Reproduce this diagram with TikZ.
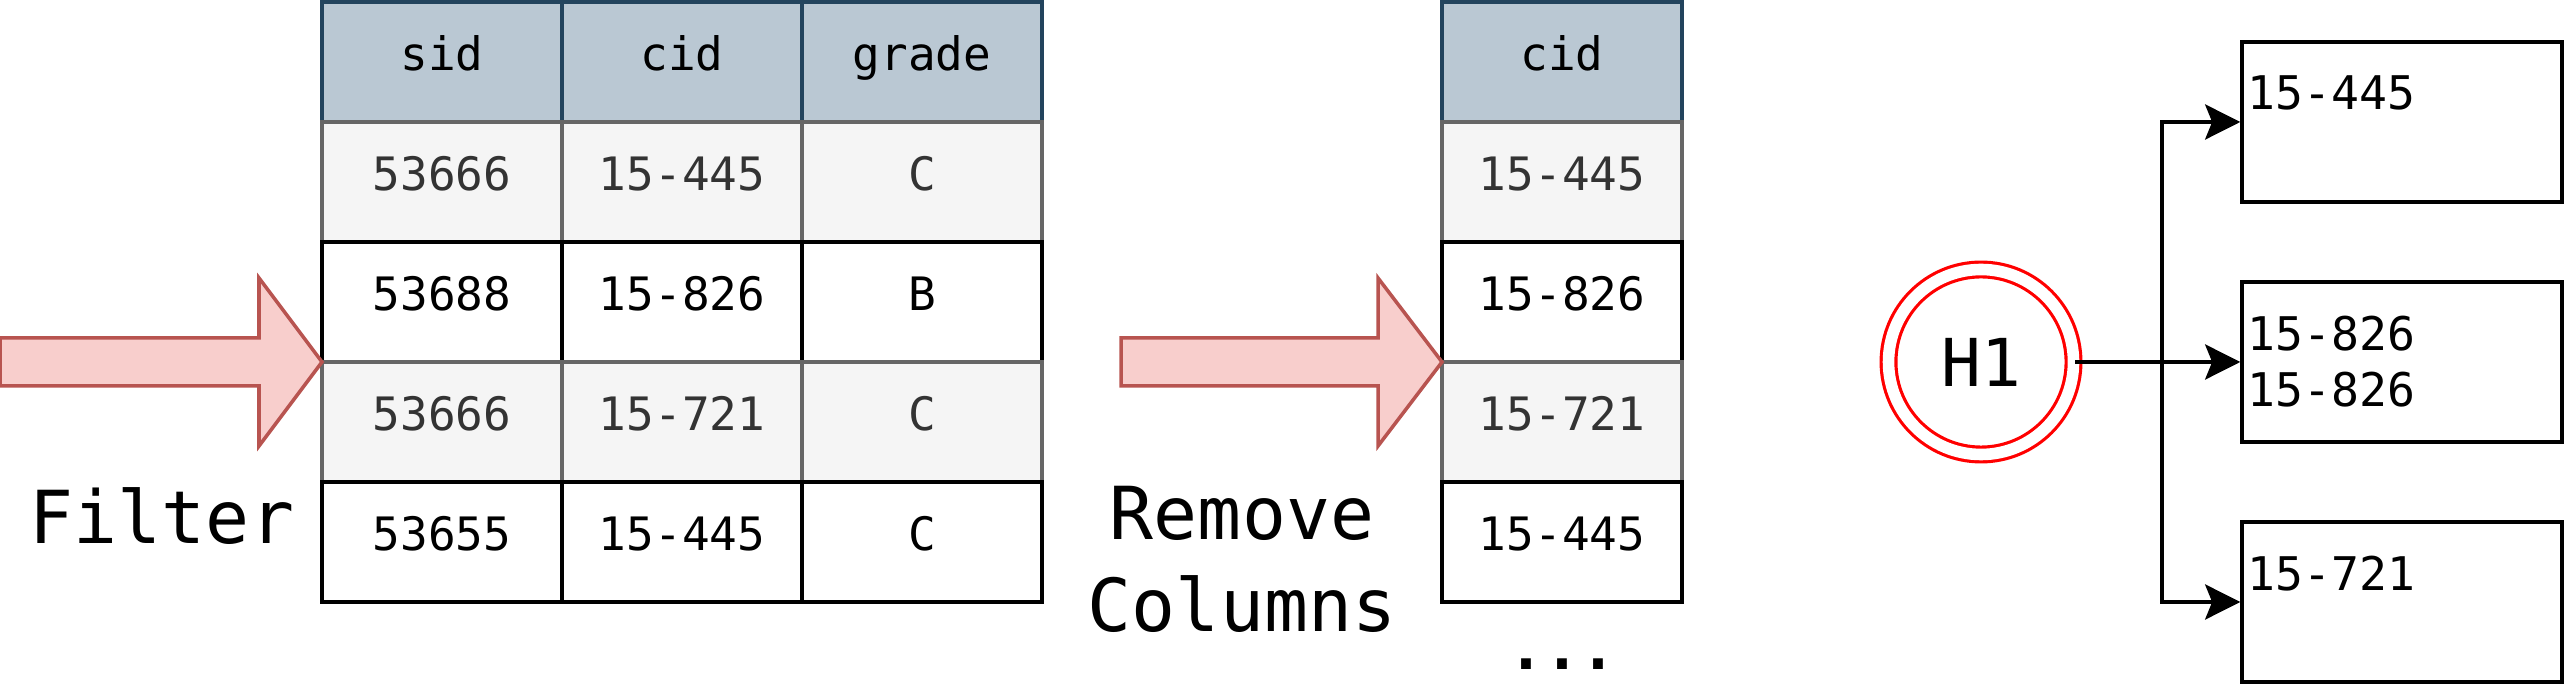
\documentclass[tikz,border=0pt]{standalone}
\usepackage{fontspec}
\setmainfont{DejaVu Sans Mono}
\usetikzlibrary{arrows.meta,positioning}

\definecolor{kopf}{HTML}{BAC8D3}
\definecolor{kopfrand}{HTML}{23445D}
\definecolor{grau}{HTML}{F5F5F5}
\definecolor{graurand}{HTML}{666666}
\definecolor{grautext}{HTML}{333333}
\definecolor{pfeil}{HTML}{F8CECC}
\definecolor{pfeilrand}{HTML}{B85450}

\tikzset{
  zelle/.style={draw, line width=1pt, minimum width=2.4cm, minimum height=1.2cm, inner sep=0pt,
    font=\fontsize{13.1}{16}\selectfont, text height=0.8em, text depth=0.3em},
  kopfzelle/.style={zelle, fill=kopf, draw=kopfrand},
  grauzelle/.style={zelle, fill=grau, draw=graurand, text=grautext},
  weisszelle/.style={zelle, fill=white, draw=black},
  gross/.style={font=\fontsize{20.8}{26}\selectfont, inner sep=0pt},
  bigpfeil/.style={draw=pfeilrand, fill=pfeil, line width=1pt},
  fach/.style={draw, line width=1pt, minimum width=3.2cm, minimum height=1.6cm, inner sep=0pt},
  fachtext/.style={anchor=north west, inner sep=0pt, align=left, font=\fontsize{13.2}{16}\selectfont},
  verbinder/.style={line width=1pt, -{Stealth[length=10pt,width=10pt,inset=2pt]}}
}

\begin{document}
\begin{tikzpicture}
  \useasboundingbox (0,0) rectangle (25.64,-6.88);

  % Tabelle
  \node[kopfzelle] (t11) at (4.42,-0.62) {sid};
  \node[kopfzelle] (t12) at (6.82,-0.62) {cid};
  \node[kopfzelle] (t13) at (9.22,-0.62) {grade};
  \foreach \z/\stil/\a/\b/\c in {2/grauzelle/53666/15-445/C, 3/weisszelle/53688/15-826/B,
                                 4/grauzelle/53666/15-721/C, 5/weisszelle/53655/15-445/C} {
    \node[\stil] (t\z1) at (4.42,{-0.62-1.2*(\z-1)}) {\a};
    \node[\stil] (t\z2) at (6.82,{-0.62-1.2*(\z-1)}) {\b};
    \node[\stil] (t\z3) at (9.22,{-0.62-1.2*(\z-1)}) {\c};
  }

  % Spalte cid
  \node[kopfzelle] (s1) at (15.62,-0.62) {cid};
  \foreach \z/\stil/\a in {2/grauzelle/15-445, 3/weisszelle/15-826,
                           4/grauzelle/15-721, 5/weisszelle/15-445} {
    \node[\stil] (s\z) at (15.62,{-0.62-1.2*(\z-1)}) {\a};
  }
  \node[font=\fontsize{17}{20}\selectfont\bfseries, inner sep=0pt, anchor=base] (punkte) at (15.62,-6.7) {...};

  % Pfeile
  \draw[bigpfeil] (0,-3.38) -- (2.59,-3.38) -- (2.59,-2.78) -- (3.22,-3.62)
    -- (2.59,-4.46) -- (2.59,-3.86) -- (0,-3.86) -- cycle;
  \draw[bigpfeil] (11.21,-3.38) -- (13.78,-3.38) -- (13.78,-2.78) -- (14.42,-3.62)
    -- (13.78,-4.46) -- (13.78,-3.86) -- (11.21,-3.86) -- cycle;

  % Beschriftungen
  \node[gross, anchor=base] (filter) at (1.62,-5.44) {Filter};
  \node[gross, anchor=base] (remove) at (12.42,-5.40) {Remove};
  \node[gross, anchor=base] (columns) at (12.42,-6.32) {Columns};

  % Hash
  \node[circle, draw=red, double, double distance=3.3pt, line width=0.9pt, minimum size=1.85cm,
        inner sep=0pt, font=\fontsize{18.8}{22}\selectfont] (h1) at (19.81,-3.62) {H1};

  \node[fach] (b1) at (24.02,-1.22) {};
  \node[fach] (b2) at (24.02,-3.62) {};
  \node[fach] (b3) at (24.02,-6.02) {};
  \node[fachtext] (b1t) at ([xshift=0.07cm,yshift=-0.35cm]b1.north west) {15-445};
  \node[fachtext] (b2t) at ([xshift=0.07cm,yshift=-0.35cm]b2.north west) {15-826\\15-826};
  \node[fachtext] (b3t) at ([xshift=0.07cm,yshift=-0.35cm]b3.north west) {15-721};

  \coordinate (knick) at (21.62,-3.62);
  \draw[verbinder] (h1.east) -- (b2.west);
  \draw[verbinder] (knick) |- (b1.west);
  \draw[verbinder] (knick) |- (b3.west);
\end{tikzpicture}
\end{document}
